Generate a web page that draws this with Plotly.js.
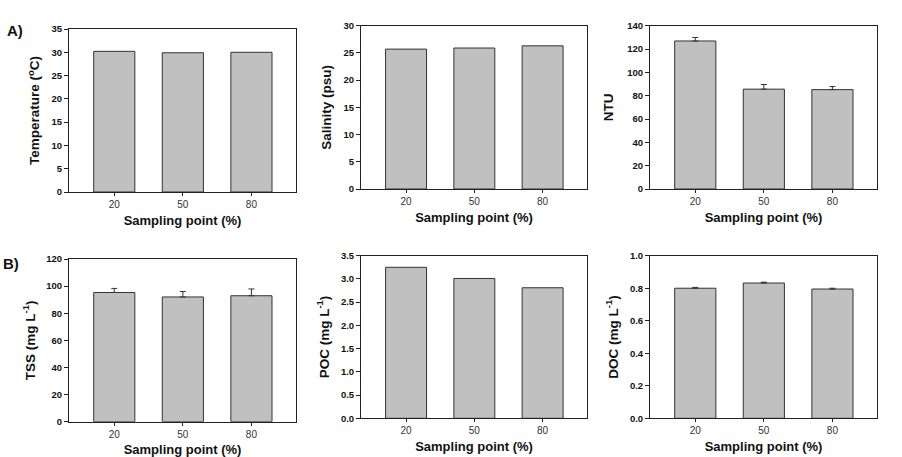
<!DOCTYPE html>
<html><head><meta charset="utf-8">
<script src="https://cdn.plot.ly/plotly-3.0.1.min.js"></script>
<style>html,body{margin:0;padding:0;background:#fff}#chart{width:902px;height:457px}</style>
</head><body><div id="chart"></div>
<script>
const categories = ['20', '50', '80'];
const temperature = [30.2, 29.9, 30.0];
const salinity = [25.7, 25.9, 26.3];
const ntu = [126.9, 85.6, 85.2];
const ntuErr = [3.0, 4.0, 2.6];
const tss = [95.3, 92.0, 92.9];
const tssErr = [3.0, 4.0, 5.0];
const poc = [3.25, 3.01, 2.81];
const doc = [0.800, 0.832, 0.795];
const docErr = [0.005, 0.005, 0.005];

const W = 902, H = 457;
const panels = [
  {y: temperature, err: null, title: 'Temperature (<sup>o</sup>C)', range: [0, 35], dtick: 5, fmt: '', px: [69, 296], py: [29, 192]},
  {y: salinity, err: null, title: 'Salinity (psu)', range: [0, 30], dtick: 5, fmt: '', px: [361, 587], py: [25.7, 189]},
  {y: ntu, err: ntuErr, title: 'NTU', range: [0, 140], dtick: 20, fmt: '', px: [650, 877], py: [25.7, 189]},
  {y: tss, err: tssErr, title: 'TSS (mg L<sup>-1</sup>)', range: [0, 120], dtick: 20, fmt: '', px: [69, 296], py: [259, 421.7]},
  {y: poc, err: null, title: 'POC (mg L<sup>-1</sup>)', range: [0, 3.5], dtick: 0.5, fmt: '.1f', px: [361, 587], py: [255.7, 418.3]},
  {y: doc, err: docErr, title: 'DOC (mg L<sup>-1</sup>)', range: [0, 1.0], dtick: 0.2, fmt: '.1f', px: [650, 877], py: [255.7, 418.3]}
];
const standoffs = [8, 8, 10, 7, 8, 8];

const traces = [];
const layout = {
  width: W, height: H, margin: {l: 0, r: 0, t: 0, b: 0},
  paper_bgcolor: '#fff', plot_bgcolor: '#fff', showlegend: false,
  font: {family: 'Liberation Sans, Arial, sans-serif', color: '#111'},
  annotations: [
    {text: '<b>A)</b>', x: 14.5 / W, y: 1 - 31 / H, xref: 'paper', yref: 'paper', xanchor: 'center', yanchor: 'middle', showarrow: false, font: {size: 15, color: '#111'}},
    {text: '<b>B)</b>', x: 10.5 / W, y: 1 - 263 / H, xref: 'paper', yref: 'paper', xanchor: 'center', yanchor: 'middle', showarrow: false, font: {size: 15, color: '#111'}}
  ]
};

panels.forEach((p, i) => {
  const n = i + 1;
  const xa = n === 1 ? 'x' : 'x' + n, ya = n === 1 ? 'y' : 'y' + n;
  const t = {
    type: 'bar', x: categories, y: p.y, xaxis: xa, yaxis: ya, width: 0.6,
    marker: {color: '#c0c0c0', line: {color: '#333', width: 1}},
    hoverinfo: 'x+y'
  };
  if (p.err) {
    t.error_y = {type: 'data', symmetric: false, array: p.err, arrayminus: [0, 0, 0], color: '#333', thickness: 1, width: 3};
  }
  traces.push(t);
  const xk = n === 1 ? 'xaxis' : 'xaxis' + n, yk = n === 1 ? 'yaxis' : 'yaxis' + n;
  layout[xk] = {
    domain: [p.px[0] / W, p.px[1] / W], anchor: ya, type: 'category', range: [-0.66, 2.65],
    showline: true, linecolor: '#222', linewidth: 1, mirror: true, showgrid: false, zeroline: false,
    ticks: 'outside', ticklen: 3, tickcolor: '#222', tickfont: {size: 10, color: '#333'},
    title: {text: '<b>Sampling point (%)</b>', font: {size: 13, color: '#111'}, standoff: 6},
    fixedrange: true
  };
  layout[yk] = {
    domain: [1 - p.py[1] / H, 1 - p.py[0] / H], anchor: xa, range: p.range, dtick: p.dtick, tick0: 0,
    tickformat: p.fmt, showline: true, linecolor: '#222', linewidth: 1, mirror: true, showgrid: false, zeroline: false,
    ticks: 'outside', ticklen: 4, tickcolor: '#222', tickfont: {size: 9.5, color: '#111', weight: 'bold'},
    title: {text: '<b>' + p.title + '</b>', font: {size: 13.5, color: '#111'}, standoff: standoffs[i]},
    fixedrange: true
  };
});

Plotly.newPlot('chart', traces, layout, {displayModeBar: false, staticPlot: true});
</script></body></html>
